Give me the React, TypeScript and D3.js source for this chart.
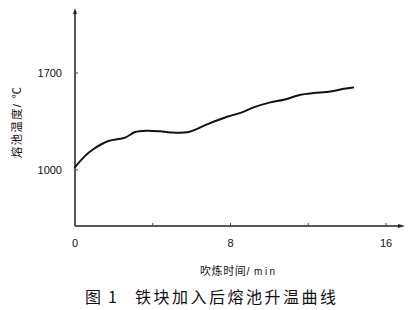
import React from "react";
import * as d3 from "d3";

const timeMin: number[] = [0, 0.52, 0.94, 1.72, 2.58, 3.09, 3.7, 4.38, 4.9, 5.84, 6.79, 7.82, 8.59, 9.19, 10.05, 10.74, 11.6, 12.28, 13.14, 13.83, 14.31];
const tempC: number[] = [1020, 1102, 1150, 1209, 1234, 1274, 1284, 1279, 1271, 1274, 1329, 1384, 1416, 1452, 1488, 1507, 1543, 1555, 1566, 1586, 1595];
const xTickValues: number[] = [0, 4, 8, 12, 16];
const xTickLabels: number[] = [0, 8, 16];
const yTickLabels: number[] = [1000, 1700];
const yTitle = "熔池温度/ ℃";
const xTitleCn = "吹炼时间/";
const xTitleUnit = "min";
const captionFig = "图";
const captionNum = "1";
const captionText = "铁块加入后熔池升温曲线";

export default function App() {
  const x = d3.scaleLinear().domain([0, 16]).range([75, 386]);
  const y = d3.scaleLinear().domain([1000, 1700]).range([170, 73]);
  const axisY = 226;
  const axisTop = 8;
  const axisRight = 405;
  const line = d3
    .line<number>()
    .x((_, i) => x(timeMin[i]))
    .y((d) => y(d))
    .curve(d3.curveCatmullRom.alpha(0.5));
  const font = "Arial, 'Liberation Sans', 'Noto Sans CJK SC', sans-serif";
  const capFont = "'Noto Sans CJK SC', sans-serif";
  return (
    <svg width={415} height={310} style={{ position: "absolute", left: 0, top: 0, background: "#fff" }}>
      <line x1={x(0)} y1={axisY} x2={x(0)} y2={axisTop + 4} stroke="#222" strokeWidth={1.5} />
      <path d={`M${x(0) - 2},${axisTop + 6} L${x(0)},${axisTop} L${x(0) + 2},${axisTop + 6} Z`} fill="#222" />
      <line x1={x(0)} y1={axisY} x2={axisRight - 4} y2={axisY} stroke="#222" strokeWidth={1.5} />
      <path d={`M${axisRight - 7},${axisY - 2} L${axisRight},${axisY} L${axisRight - 7},${axisY + 2} Z`} fill="#222" />
      {xTickValues.map((t) => (
        <line key={t} x1={x(t)} x2={x(t)} y1={axisY} y2={axisY - 3} stroke="#444" strokeWidth={1} />
      ))}
      {yTickLabels.map((t) => (
        <line key={t} x1={x(0)} x2={x(0) + 3} y1={y(t)} y2={y(t)} stroke="#444" strokeWidth={1} />
      ))}
      {xTickLabels.map((t) => (
        <text key={t} x={x(t)} y={247} textAnchor="middle" fontFamily={font} fontSize={11} fill="#111">
          {t}
        </text>
      ))}
      {yTickLabels.map((t) => (
        <text key={t} x={62} y={y(t) + 4} textAnchor="end" fontFamily={font} fontSize={11} fill="#111">
          {t}
        </text>
      ))}
      <text
        transform={`translate(21,122) rotate(-90)`}
        textAnchor="middle"
        fontFamily={font}
        fontSize={11.5}
        letterSpacing={1.2}
        fill="#111"
      >
        {yTitle}
      </text>
      <text x={200} y={275} fontFamily={font} fontSize={11} letterSpacing={0.6} fill="#111">
        {xTitleCn}
        <tspan dx={4} letterSpacing={2.5} fontSize={10}>{xTitleUnit}</tspan>
      </text>
      <text x={85} y={303} fontFamily={capFont} fontSize={16} fill="#111">
        {captionFig}
      </text>
      <text x={108} y={303} fontFamily={capFont} fontSize={16} fill="#111">
        {captionNum}
      </text>
      <text x={135} y={303} fontFamily={capFont} fontSize={16} letterSpacing={2.5} fill="#111">
        {captionText}
      </text>
      <path d={line(tempC) || ""} fill="none" stroke="#111" strokeWidth={2} strokeLinejoin="round" strokeLinecap="round" />
    </svg>
  );
}
